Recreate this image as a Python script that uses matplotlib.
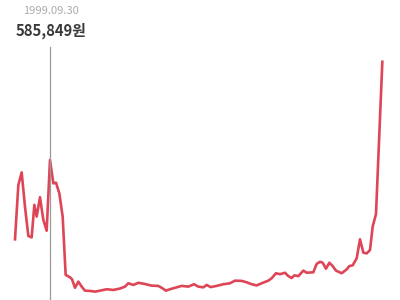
import matplotlib
matplotlib.use('Agg')
import matplotlib.pyplot as plt

# Price history (decimal year, won)
years = [
    1997.65, 1997.85, 1998.05, 1998.25, 1998.45, 1998.65, 1998.81, 1998.95,
    1999.15, 1999.35, 1999.55, 1999.75, 1999.95, 2000.11, 2000.31, 2000.51,
    2000.69, 2000.95, 2001.07, 2001.25, 2001.45, 2001.65, 2001.85, 2002.15,
    2002.45, 2002.75, 2003.15, 2003.55, 2003.95, 2004.25, 2004.45, 2004.75,
    2005.05, 2005.45, 2005.85, 2006.25, 2006.45, 2006.71, 2006.95, 2007.35,
    2007.65, 2008.05, 2008.39, 2008.65, 2008.95, 2009.15, 2009.39, 2009.75,
    2010.15, 2010.55, 2010.85, 2011.25, 2011.55, 2011.85, 2012.15, 2012.45,
    2012.85, 2013.05, 2013.31, 2013.55, 2013.85, 2014.05, 2014.25, 2014.41,
    2014.65, 2014.95, 2015.15, 2015.55, 2015.75, 2015.95, 2016.11, 2016.31,
    2016.51, 2016.71, 2016.91, 2017.25, 2017.55, 2017.71, 2017.91, 2018.15,
    2018.35, 2018.55, 2018.75, 2018.95, 2019.11, 2019.31, 2019.69,
]
prices = [
    254000, 481000, 534000, 390000, 268000, 262000, 398000, 349000,
    430000, 335000, 290000, 585849, 488000, 491000, 446000, 349000,
    105000, 95000, 87000, 51000, 77000, 56000, 39000, 38000,
    35000, 39000, 45000, 42000, 48000, 56000, 70000, 63000,
    72000, 67000, 60000, 59000, 51000, 39000, 45000, 53000,
    59000, 56000, 66000, 56000, 53000, 63000, 54000, 59000,
    66000, 70000, 81000, 80000, 74000, 66000, 61000, 70000,
    81000, 91000, 112000, 108000, 114000, 100000, 92000, 103000,
    100000, 123000, 114000, 116000, 151000, 160000, 156000, 131000,
    156000, 142000, 123000, 112000, 128000, 142000, 145000, 174000,
    254000, 198000, 195000, 209000, 307000, 360000, 997000,
]

hover_date = '1999.09.30'
hover_year = 1999.75
hover_price = 585849

fig = plt.figure(figsize=(4, 3), dpi=100)
ax = fig.add_axes([0, 0, 1, 1])

ax.plot(years, prices, color='#de4556', linewidth=1.9, solid_joinstyle='round')
ax.axvline(hover_year, ymin=0, ymax=0.843, color='#9a9a9a', linewidth=0.9)

ax.set_xlim(1996.75, 2020.75)
ax.set_ylim(0, 1255380)
ax.axis('off')

fig.text(0.058, 0.965, hover_date, color='#ababab', fontsize=8,
         family=['Noto Sans CJK KR', 'DejaVu Sans'], va='center', ha='left')
fig.text(0.038, 0.898, f'{hover_price:,}원', color='#3a3a3a', fontsize=10.7,
         fontweight='bold', family=['Noto Sans CJK KR', 'DejaVu Sans'],
         va='center', ha='left')

fig.savefig('out.png', dpi=100)
